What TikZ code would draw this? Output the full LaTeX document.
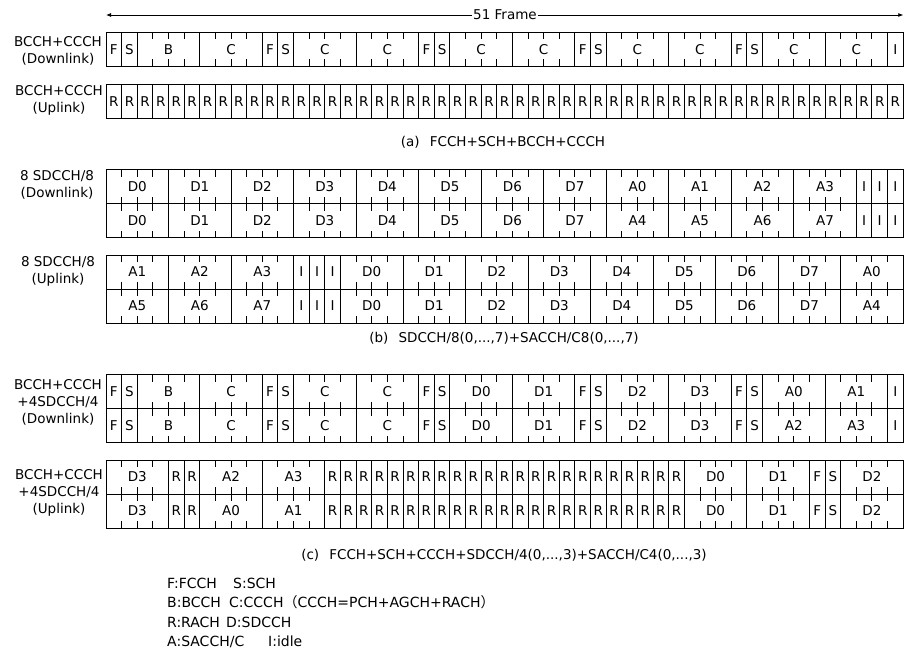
\documentclass[tikz,border=0pt]{standalone}
\usepackage{fontspec}
\setmainfont{DejaVu Sans}
\newfontfamily\cjk{Noto Sans CJK SC}
\usetikzlibrary{arrows.meta}

% slot grid: origin, slot width, row height, tick length
\def\xo{106}
\def\cw{15.63}
\def\rh{34}
\def\tk{7}
\def\rachlbl{R}
% one row of 51 slots: #1 top edge, #2 label/width list, #3 name
\newcommand\chanrow[3]{%
  \gdef\slotpos{0}%
  \foreach \lab/\wid [count=\k] in {#2} {
    \edef\slotlbl{\lab}
    \ifx\slotlbl\rachlbl
      % run of single R slots
      \foreach \j in {1,...,\wid} {
        \draw[cell] (\xo+\slotpos*\cw+\j*\cw-\cw,#1) rectangle ++(\cw,\rh);
        \node[slot] (#3-\k-\j) at (\xo+\slotpos*\cw+\j*\cw-\cw/2,#1+\rh/2+1) {R};
      }
    \else
      \draw[cell] (\xo+\slotpos*\cw,#1) rectangle ++(\wid*\cw,\rh);
      \ifnum\wid>1
        \pgfmathtruncatemacro\lastj{\wid-1}
        \foreach \j in {1,...,\lastj} {
          \draw[cell] (\xo+\slotpos*\cw+\j*\cw,#1) -- ++(0,\tk);
          \draw[cell] (\xo+\slotpos*\cw+\j*\cw,#1+\rh) -- ++(0,-\tk);
        }
      \fi
      \node[slot] (#3-\k) at (\xo+\slotpos*\cw+\wid*\cw/2,#1+\rh/2+1) {\lab};
    \fi
    \pgfmathparse{\slotpos+\wid}\xdef\slotpos{\pgfmathresult}
  }%
}

\begin{document}
\begin{tikzpicture}[x=1pt, y=-1pt,
  every node/.style={font=\fontsize{13.5}{17}\selectfont},
  cell/.style={draw=black, line width=0.9pt},
  slot/.style={inner sep=0pt, text height=0.73em, text depth=0pt},
  rowlbl/.style={align=center, inner sep=0pt},
  caption/.style={inner sep=0pt},
  legend/.style={anchor=base west, inner sep=0pt, font=\fontsize{14}{19}\selectfont}]
  \useasboundingbox (0,0) rectangle (904,661);
  % 51 frame span
  \coordinate (fl) at (106,15);
  \coordinate (fr) at (903.3,15);
  \node[fill=white, inner sep=1.5pt] (frm) at (505,15) {51 Frame};
  \draw[-{Latex[length=5pt,width=4pt]}, line width=0.8pt] (frm) -- (fl);
  \draw[-{Latex[length=5pt,width=4pt]}, line width=0.8pt] (frm) -- (fr);
  % (a) BCCH+CCCH
  \node[rowlbl] (laD) at (58,51) {BCCH+CCCH\\(Downlink)};
  \node[rowlbl] (laU) at (59,100.5) {BCCH+CCCH\\(Uplink)};
  \chanrow{32.5}{F/1,S/1,B/4,C/4,F/1,S/1,C/4,C/4,F/1,S/1,C/4,C/4,F/1,S/1,C/4,C/4,F/1,S/1,C/4,C/4,I/1}{aD}
  \chanrow{84.5}{R/51}{aU}
  \node[caption] (capa) at (503,142) {(a)\hspace{0.75em}FCCH+SCH+BCCH+CCCH};
  % (b) 8 SDCCH/8
  \node[rowlbl] (lbD) at (57,185) {8 SDCCH/8\\(Downlink)};
  \node[rowlbl] (lbU) at (58,271) {8 SDCCH/8\\(Uplink)};
  \chanrow{169.5}{D0/4,D1/4,D2/4,D3/4,D4/4,D5/4,D6/4,D7/4,A0/4,A1/4,A2/4,A3/4,I/1,I/1,I/1}{bD1}
  \chanrow{203.5}{D0/4,D1/4,D2/4,D3/4,D4/4,D5/4,D6/4,D7/4,A4/4,A5/4,A6/4,A7/4,I/1,I/1,I/1}{bD2}
  \chanrow{255}{A1/4,A2/4,A3/4,I/1,I/1,I/1,D0/4,D1/4,D2/4,D3/4,D4/4,D5/4,D6/4,D7/4,A0/4}{bU1}
  \chanrow{289}{A5/4,A6/4,A7/4,I/1,I/1,I/1,D0/4,D1/4,D2/4,D3/4,D4/4,D5/4,D6/4,D7/4,A4/4}{bU2}
  \node[caption] (capb) at (504,338) {(b)\hspace{0.75em}SDCCH/8(0,...,7)+SACCH/C8(0,...,7)};
  % (c) BCCH+CCCH+4SDCCH/4
  \node[rowlbl] (lcD) at (58,402) {BCCH+CCCH\\+4SDCCH/4\\(Downlink)};
  \node[rowlbl] (lcU) at (59,493) {BCCH+CCCH\\+4SDCCH/4\\(Uplink)};
  \chanrow{374.5}{F/1,S/1,B/4,C/4,F/1,S/1,C/4,C/4,F/1,S/1,D0/4,D1/4,F/1,S/1,D2/4,D3/4,F/1,S/1,A0/4,A1/4,I/1}{cD1}
  \chanrow{408.5}{F/1,S/1,B/4,C/4,F/1,S/1,C/4,C/4,F/1,S/1,D0/4,D1/4,F/1,S/1,D2/4,D3/4,F/1,S/1,A2/4,A3/4,I/1}{cD2}
  \chanrow{460}{D3/4,R/2,A2/4,A3/4,R/23,D0/4,D1/4,F/1,S/1,D2/4}{cU1}
  \chanrow{494}{D3/4,R/2,A0/4,A1/4,R/23,D0/4,D1/4,F/1,S/1,D2/4}{cU2}
  \node[caption] (capc) at (504,555) {(c)\hspace{0.75em}FCCH+SCH+CCCH+SDCCH/4(0,...,3)+SACCH/C4(0,...,3)};
  % key
  \node[legend] (kF) at (167,588) {F:FCCH};
  \node[legend] (kS) at (233,588) {S:SCH};
  \node[legend] (kB) at (167,607.5) {B:BCCH};
  \node[legend] (kC) at (229,607.5) {C:CCCH{\cjk （}CCCH=PCH+AGCH+RACH{\cjk ）}};
  \node[legend] (kR) at (167,627) {R:RACH};
  \node[legend] (kD) at (226,627) {D:SDCCH};
  \node[legend] (kA) at (167,646) {A:SACCH/C};
  \node[legend] (kI) at (268,646) {I:idle};
\end{tikzpicture}
\end{document}
